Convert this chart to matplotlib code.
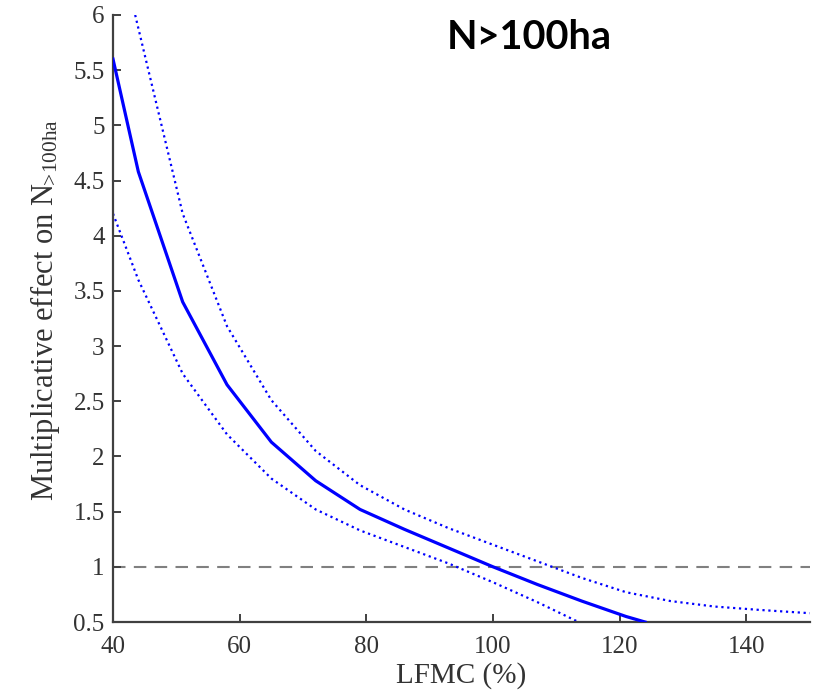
import matplotlib
matplotlib.use("Agg")
import matplotlib.pyplot as plt

# Data
lfmc_mid = [40, 44, 51, 58, 65, 72, 79, 86, 93, 100, 107, 114, 121, 124]
eff_mid = [5.6, 4.58, 3.4, 2.65, 2.13, 1.78, 1.52, 1.34, 1.17, 1.0, 0.84, 0.69, 0.55, 0.5]

lfmc_up = [43.5, 51, 58, 65, 72, 79, 86, 93, 100, 107, 114, 121, 128, 135, 142, 150]
eff_up = [6.0, 4.2, 3.18, 2.51, 2.05, 1.74, 1.52, 1.35, 1.2, 1.05, 0.9, 0.77, 0.69, 0.64, 0.61, 0.58]

lfmc_lo = [40, 44, 51, 58, 65, 72, 79, 86, 93, 100, 107, 113.5]
eff_lo = [4.2, 3.6, 2.75, 2.2, 1.8, 1.52, 1.33, 1.18, 1.03, 0.86, 0.68, 0.5]

ref_level = 1.0
xticks = [40, 60, 80, 100, 120, 140]
yticks = [0.5, 1, 1.5, 2, 2.5, 3, 3.5, 4, 4.5, 5, 5.5, 6]
ytick_labels = ["0.5", "1", "1.5", "2", "2.5", "3", "3.5", "4", "4.5", "5", "5.5", "6"]

plt.rcParams['font.family'] = ['Liberation Serif', 'DejaVu Serif']
plt.rcParams['mathtext.fontset'] = 'custom'
plt.rcParams['mathtext.rm'] = 'Liberation Serif'
plt.rcParams['mathtext.it'] = 'Liberation Serif'
plt.rcParams['mathtext.default'] = 'regular'

fig = plt.figure(figsize=(8.13, 7.0), dpi=100)
ax = fig.add_axes([0.139, 0.1114, 0.857, 0.8672])

ax.axhline(ref_level, color='#808080', lw=1.5, ls=(0, (6, 4)), zorder=1)
ax.plot(lfmc_up, eff_up, color='#0000ff', lw=1.6, ls=':', zorder=2)
ax.plot(lfmc_lo, eff_lo, color='#0000ff', lw=1.6, ls=':', zorder=2)
ax.plot(lfmc_mid, eff_mid, color='#0000ff', lw=2.3, zorder=3)

ax.set_xlim(40, 150)
ax.set_ylim(0.5, 6)
ax.set_xticks(xticks)
ax.set_yticks(yticks)
ax.set_yticklabels(ytick_labels)

for s in ['top', 'right']:
    ax.spines[s].set_visible(False)
for s in ['left', 'bottom']:
    ax.spines[s].set_color('#404040')
    ax.spines[s].set_linewidth(1.6)

ax.tick_params(direction='in', length=6, width=1.4, color='#404040',
               labelsize=18, labelcolor='#333333')
ax.tick_params(axis='x', pad=10)
ax.tick_params(axis='y', pad=6)

ax.set_xlabel('LFMC (%)', fontsize=21, color='#333333')
ax.set_ylabel(r'Multiplicative effect on N$_{\!\!>\!100ha}$',
              fontsize=22, color='#333333')
ax.xaxis.set_label_coords(0.5, -0.066)
ax.yaxis.set_label_coords(-0.073, 0.514)

fig.text(0.651, 0.9296, 'N>100ha', family=['Lato', 'DejaVu Sans'],
         fontweight='bold', fontsize=28.5, color='black', ha='center', va='baseline')

fig.savefig('out.png', dpi=100)
